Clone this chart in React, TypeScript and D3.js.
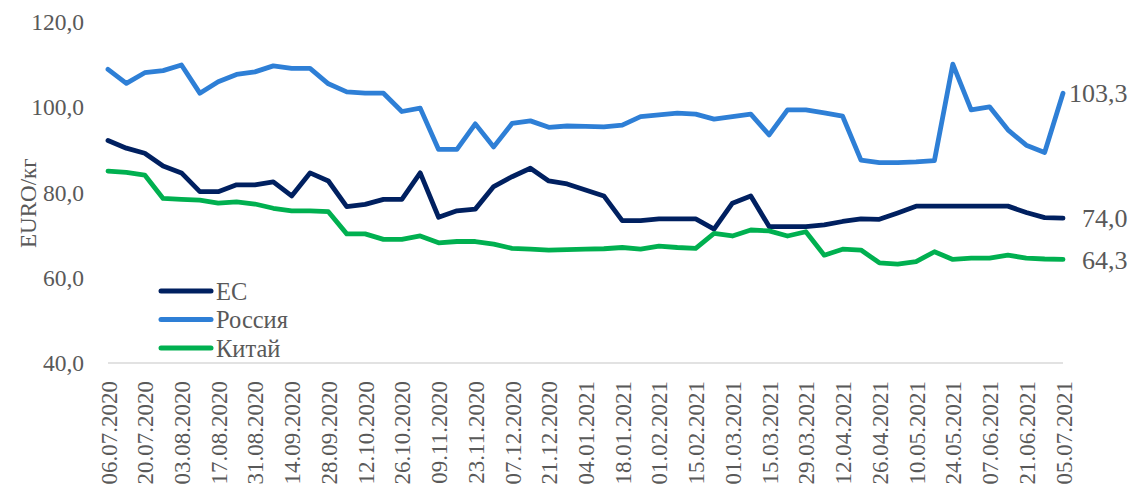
import React from "react";
import * as d3 from "d3";

const dates = [
  "06.07.2020","13.07.2020","20.07.2020","27.07.2020","03.08.2020","10.08.2020","17.08.2020","24.08.2020","31.08.2020",
  "07.09.2020","14.09.2020","21.09.2020","28.09.2020","05.10.2020","12.10.2020","19.10.2020","26.10.2020",
  "02.11.2020","09.11.2020","16.11.2020","23.11.2020","30.11.2020","07.12.2020","14.12.2020","21.12.2020","28.12.2020",
  "04.01.2021","11.01.2021","18.01.2021","25.01.2021","01.02.2021","08.02.2021","15.02.2021","22.02.2021",
  "01.03.2021","08.03.2021","15.03.2021","22.03.2021","29.03.2021","05.04.2021","12.04.2021","19.04.2021","26.04.2021",
  "03.05.2021","10.05.2021","17.05.2021","24.05.2021","31.05.2021","07.06.2021","14.06.2021","21.06.2021","28.06.2021","05.07.2021"
];

const euValues = [
  92.2, 90.4, 89.2, 86.2, 84.6, 80.2, 80.2, 81.8, 81.8, 82.5, 79.2, 84.6, 82.7, 76.7, 77.2, 78.4, 78.4,
  84.6, 74.2, 75.7, 76.1, 81.4, 83.7, 85.7, 82.7, 82.0, 80.6, 79.2, 73.4, 73.4, 73.8, 73.8, 73.8, 71.4,
  77.5, 79.2, 72.0, 72.0, 72.0, 72.4, 73.2, 73.8, 73.7, 75.2, 76.8, 76.8, 76.8, 76.8, 76.8, 76.8, 75.3, 74.1, 74.0
];

const russiaValues = [
  108.9, 105.6, 108.1, 108.6, 109.9, 103.3, 106.0, 107.7, 108.3, 109.7, 109.1, 109.1, 105.5, 103.6, 103.3, 103.3, 99.0,
  99.8, 90.1, 90.1, 96.1, 90.7, 96.2, 96.8, 95.3, 95.6, 95.5, 95.4, 95.8, 97.8, 98.2, 98.6, 98.4, 97.2,
  97.8, 98.4, 93.5, 99.4, 99.4, 98.7, 97.9, 87.6, 87.0, 87.0, 87.2, 87.5, 110.1, 99.4, 100.1, 94.7, 91.1, 89.4, 103.3
];

const chinaValues = [
  85.0, 84.7, 84.1, 78.6, 78.4, 78.2, 77.5, 77.8, 77.3, 76.3, 75.7, 75.7, 75.5, 70.3, 70.3, 69.0, 69.0,
  69.8, 68.2, 68.5, 68.5, 67.9, 66.9, 66.7, 66.5, 66.6, 66.7, 66.8, 67.1, 66.7, 67.4, 67.1, 66.9, 70.4,
  69.8, 71.2, 71.0, 69.8, 70.8, 65.3, 66.7, 66.5, 63.5, 63.2, 63.8, 66.1, 64.3, 64.6, 64.6, 65.3, 64.6, 64.4, 64.3
];

const yTicks = [40, 60, 80, 100, 120];
const seriesNames = ["ЕС", "Россия", "Китай"];
const endLabels = ["74,0", "103,3", "64,3"];

const colors = ["#002060", "#2E7FD6", "#00B050"];
const FONT = "'Liberation Serif', 'Times New Roman', serif";
const TEXT = "#595959";

export default function App() {
  const width = 1132;
  const height = 489;
  const x = d3.scalePoint<string>().domain(dates).range([108, 1063]);
  const y = d3.scaleLinear().domain([40, 120]).range([363, 22]);
  const allSeries = [euValues, russiaValues, chinaValues];
  const line = d3
    .line<number>()
    .x((_, i) => x(dates[i]) as number)
    .y((d) => y(d));
  const fmt = (v: number) => v.toFixed(1).replace(".", ",");
  const tickDates = dates.filter((_, i) => i % 2 === 0);
  const lastX = x(dates[dates.length - 1]) as number;

  return (
    <svg width={width} height={height} style={{ position: "absolute", left: 0, top: 0, background: "#fff" }}>
      <line x1={108} x2={1063} y1={y(40)} y2={y(40)} stroke="#D9D9D9" strokeWidth={1.5} />
      {yTicks.map((t) => (
        <text key={t} x={84} y={y(t)} dy="0.35em" textAnchor="end" fontFamily={FONT} fontSize={23.5} fill={TEXT}>
          {fmt(t)}
        </text>
      ))}
      <text
        transform={`translate(36,${y(77.5)}) rotate(-90)`}
        textAnchor="middle"
        fontFamily={FONT}
        fontSize={23}
        fill={TEXT}
      >
        EURO/кг
      </text>
      {tickDates.map((d) => (
        <text
          key={d}
          transform={`translate(${(x(d) as number) + 8.5},381) rotate(-90)`}
          textAnchor="end"
          fontFamily={FONT}
          fontSize={23}
          fill={TEXT}
        >
          {d}
        </text>
      ))}
      {allSeries.map((s, k) => (
        <path
          key={k}
          d={line(s) as string}
          fill="none"
          stroke={colors[k]}
          strokeWidth={4.8}
          strokeLinejoin="round"
          strokeLinecap="round"
        />
      ))}
      {allSeries.map((s, k) => (
        <text
          key={"e" + k}
          x={lastX + 6}
          y={y(s[s.length - 1])}
          dy="0.35em"
          fontFamily={FONT}
          fontSize={26}
          fill={TEXT}
          dx={k === 1 ? 0 : 13}
        >
          {endLabels[k]}
        </text>
      ))}
      {seriesNames.map((n, k) => (
        <g key={n} transform={`translate(0,${291 + k * 28.5})`}>
          <line x1={161} x2={211} y1={0} y2={0} stroke={colors[k]} strokeWidth={5} strokeLinecap="round" />
          <text x={216} y={0} dy="0.35em" fontFamily={FONT} fontSize={24.5} fill={TEXT}>
            {n}
          </text>
        </g>
      ))}
    </svg>
  );
}
